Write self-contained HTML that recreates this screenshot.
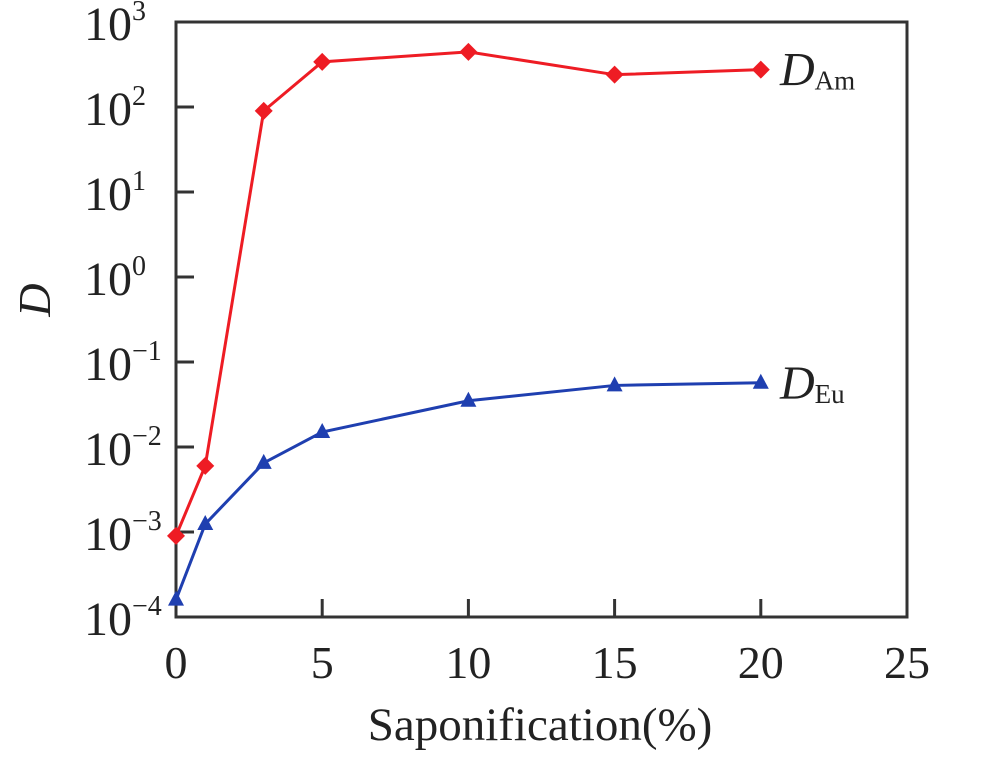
<!DOCTYPE html>
<html><head><meta charset="utf-8"><style>
body{margin:0;background:#fff}
svg text{font-family:"Liberation Serif",serif;fill:#222}
</style></head><body>
<svg id="chart" width="1000" height="769">
<g id="axes"></g><g id="series"></g>
</svg>
<script>
const xTicks=[0,5,10,15,20,25];
const yExps=[3,2,1,0,-1,-2,-3,-4];
const xs=[0,1,3,5,10,15,20];
const am=[9e-4,6e-3,90,340,445,240,275];
const eu=[1.6e-4,1.24e-3,6.5e-3,0.015,0.035,0.053,0.057];
const L=176,R=907,T=22,B=617;
const X=v=>L+(v/25)*(R-L);
const Y=v=>B-(Math.log10(v)+4)/7*(B-T);
const NS='http://www.w3.org/2000/svg';
function mk(t,a,p){const e=document.createElementNS(NS,t);for(const k in a)e.setAttribute(k,a[k]);p.appendChild(e);return e;}
const ax=document.getElementById('axes'),se=document.getElementById('series');
const fr=mk('rect',{x:L,y:T,width:R-L,height:B-T,fill:'none',stroke:'#333','stroke-width':3},ax);


xTicks.forEach(v=>{
 const t=mk('line',{x1:X(v),x2:X(v),y1:B,y2:B-18,stroke:'#333','stroke-width':3},ax);
 
 
 const l=mk('text',{x:X(v),y:678,'text-anchor':'middle','font-size':46},ax);
 l.textContent=v;
 
 
});
yExps.forEach(e=>{
 const y=Y(Math.pow(10,e));
 const t=mk('line',{x1:L,x2:L+18,y1:y,y2:y,stroke:'#333','stroke-width':3},ax);
 
 
 const l=mk('text',{x:84,y:y+18,'font-size':48},ax);
 
 
 l.textContent='10';
 const s=mk('tspan',{dy:-20,'font-size':28},l);
 s.textContent=e<0?'\u2212'+(-e):String(e);
});
const yt=mk('text',{x:0,y:0,'font-size':46,'font-style':'italic',transform:'translate(50,300) rotate(-90)','text-anchor':'middle'},ax);
yt.textContent='D';


const xt=mk('text',{x:540,y:740,'font-size':47,'text-anchor':'middle'},ax);
xt.textContent='Saponification(%)';


function series(vals,col,name,marker,label){
 const g=mk('g',{},se);
 
 
 const p=mk('polyline',{points:xs.map((x,i)=>X(x)+','+Y(vals[i])).join(' '),fill:'none',stroke:col,'stroke-width':3},g);
 
 
 xs.forEach((x,i)=>{
  const cx=X(x),cy=Y(vals[i]);
  const pts=marker==='d'?[[cx,cy-9],[cx+9,cy],[cx,cy+9],[cx-9,cy]]:[[cx,cy-9],[cx+8,cy+6],[cx-8,cy+6]];
  const m=mk('polygon',{points:pts.map(q=>q.join(',')).join(' '),fill:col},g);
  
  
 });
 const ly=Y(vals[vals.length-1])+16;
 const t=mk('text',{x:780,y:ly,'font-size':48,'font-style':'italic'},g);
 t.textContent='D';
 
 
 const s=mk('tspan',{'font-size':27,'font-style':'normal',dy:4},t);
 s.textContent=label;
}
series(am,'#ee1c24','series-am','d','Am');
series(eu,'#1f3fb0','series-eu','t','Eu');
</script>
</body></html>
